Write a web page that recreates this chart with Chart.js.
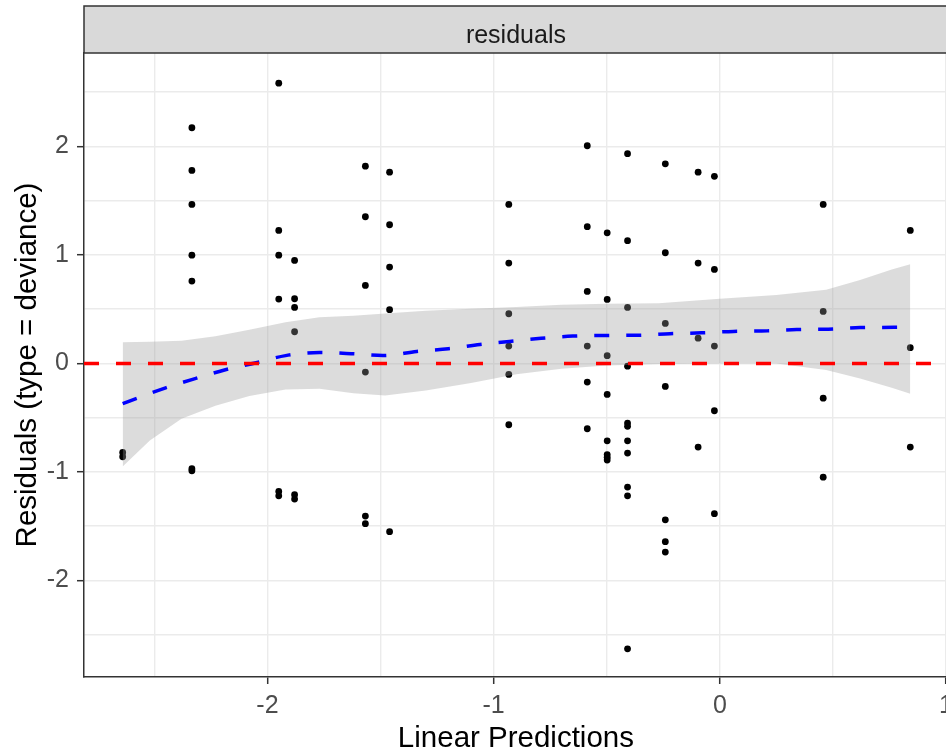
<!DOCTYPE html>
<html>
<head>
<meta charset="utf-8">
<script src="https://cdn.jsdelivr.net/npm/chart.js@4.4.0/dist/chart.umd.min.js"></script>
<style>
  html, body { margin: 0; padding: 0; background: #fff; overflow: hidden; }
  #wrap { width: 946px; height: 753px; overflow: hidden; position: relative; }
  canvas { position: absolute; left: 0; top: 0; }
</style>
</head>
<body>
<div id="wrap"><canvas id="resid" width="960" height="753"></canvas></div>
<script>
// linear predictor values (one per vertical column of points)
const predLevels = [-2.640, -2.334, -1.950, -1.880, -1.567, -1.460, -0.933, -0.586,
                    -0.498, -0.408, -0.241, -0.096, -0.024, 0.457, 0.842];
// deviance residuals for each column
const residuals = [
  [-0.82, -0.86],
  [2.172, 1.779, 1.465, 0.998, 0.759, -0.97, -0.99],
  [2.583, 1.226, 0.998, 0.593, -1.18, -1.22],
  [0.949, 0.596, 0.516, 0.292, -1.21, -1.25],
  [1.818, 1.352, 0.719, -0.080, -1.407, -1.477],
  [1.763, 1.278, 0.888, 0.495, -1.551],
  [1.465, 0.925, 0.458, 0.160, -0.101, -0.565],
  [2.006, 1.260, 0.664, 0.160, -0.172, -0.602],
  [1.204, 0.590, 0.071, -0.286, -0.713, -0.84, -0.865, -0.89],
  [1.933, 1.131, 0.516, -0.025, -0.55, -0.58, -0.713, -0.826, -1.140, -1.220, -2.630],
  [1.840, 1.020, 0.369, -0.212, -1.441, -1.643, -1.739],
  [1.763, 0.925, 0.233, -0.771],
  [1.724, 0.866, 0.160, -0.436, -1.385],
  [1.465, 0.479, -0.320, -1.048],
  [1.226, 0.145, -0.771]
];

// loess smooth
const smoothX = [-2.64, -2.55, -2.45, -2.32, -2.19, -2.05, -1.92, -1.77, -1.63, -1.49, -1.34,
                 -1.20, -1.06, -0.93, -0.79, -0.65, -0.50, -0.36, -0.22, -0.08, 0.06, 0.21,
                 0.34, 0.48, 0.62, 0.77, 0.842];
const smoothY = [-0.37, -0.30, -0.225, -0.14, -0.06, 0.006, 0.072, 0.10, 0.09, 0.073, 0.11,
                 0.136, 0.175, 0.203, 0.232, 0.252, 0.258, 0.26, 0.274, 0.282, 0.295, 0.30,
                 0.313, 0.316, 0.33, 0.333, 0.336];

// confidence band
const bandX  = [-2.64, -2.52, -2.38, -2.23, -2.08, -1.92, -1.77, -1.62, -1.48, -1.30, -1.10,
                -0.90, -0.70, -0.50, -0.27, 0.00, 0.25, 0.47, 0.62, 0.76, 0.842];
const bandHi = [0.196, 0.20, 0.21, 0.25, 0.31, 0.38, 0.425, 0.44, 0.46, 0.485, 0.505,
                0.52, 0.54, 0.55, 0.555, 0.595, 0.63, 0.68, 0.77, 0.865, 0.915];
const bandLo = [-0.95, -0.71, -0.51, -0.39, -0.30, -0.24, -0.233, -0.275, -0.295, -0.25, -0.18,
                -0.10, -0.05, -0.02, -0.005, 0.0, 0.0, -0.06, -0.14, -0.225, -0.28];

const xLimits = [-2.811, 1.008];
const yLimits = [-2.890, 2.861];
const refLine = 0;

const font = '"Liberation Sans", Arial, sans-serif';
Chart.defaults.font.family = font;

const pts = [];
predLevels.forEach((x, i) => residuals[i].forEach(y => pts.push({x: x, y: y})));
const zip = (xs, ys) => xs.map((x, i) => ({x: x, y: ys[i]}));

const isMajor = ctx => ctx.tick && Number.isInteger(ctx.tick.value);

const stripPlugin = {
  id: 'strip',
  afterDraw(chart) {
    const {ctx, chartArea} = chart;
    ctx.save();
    ctx.fillStyle = '#D9D9D9';
    ctx.fillRect(chartArea.left, 6, chart.width, chartArea.top - 6);
    ctx.strokeStyle = '#333333';
    ctx.lineWidth = 1.5;
    ctx.strokeRect(chartArea.left, 6, chart.width, chartArea.top - 6);
    ctx.fillStyle = '#1A1A1A';
    ctx.font = '25px ' + font;
    ctx.textAlign = 'center';
    ctx.textBaseline = 'alphabetic';
    ctx.fillText('residuals', (chartArea.left + chartArea.right) / 2, 42.5);
    ctx.restore();
  }
};

new Chart(document.getElementById('resid'), {
  type: 'scatter',
  data: {
    datasets: [
      {
        data: pts, order: 5,
        backgroundColor: '#000', borderWidth: 0, pointRadius: 3.4
      },
      {
        data: zip(bandX, bandLo), order: 4, showLine: true,
        borderColor: 'rgba(0,0,0,0)', borderWidth: 0, pointRadius: 0, fill: false
      },
      {
        data: zip(bandX, bandHi), order: 3, showLine: true,
        borderColor: 'rgba(0,0,0,0)', borderWidth: 0, pointRadius: 0,
        fill: '-1', backgroundColor: 'rgba(153,153,153,0.34)'
      },
      {
        data: zip(smoothX, smoothY), order: 2, showLine: true,
        borderColor: '#0000FF', borderWidth: 3.5, borderDash: [15, 17],
        pointRadius: 0, cubicInterpolationMode: 'monotone'
      },
      {
        data: [{x: xLimits[0], y: refLine}, {x: xLimits[1], y: refLine}], order: 1, showLine: true,
        borderColor: '#FF0000', borderWidth: 3.5, borderDash: [15, 17], pointRadius: 0
      }
    ]
  },
  options: {
    responsive: false,
    animation: false,
    layout: { padding: { left: 0, top: 53, right: 11, bottom: 0 } },
    plugins: { legend: { display: false }, tooltip: { enabled: false } },
    scales: {
      x: {
        type: 'linear', min: xLimits[0], max: xLimits[1],
        afterFit: s => { s.height = 76; },
        ticks: {
          stepSize: 0.5, includeBounds: false, autoSkip: false, maxRotation: 0,
          padding: 7, color: '#4D4D4D', font: { size: 25 },
          callback: v => Number.isInteger(v) ? String(v) : ''
        },
        grid: {
          color: '#EBEBEB', lineWidth: 1.4, tickLength: 7, tickWidth: 1.5,
          tickColor: c => isMajor(c) ? '#333333' : 'rgba(0,0,0,0)'
        },
        border: { color: '#333333', width: 1.5 },
        title: {
          display: true, text: 'Linear Predictions', color: '#000',
          font: { size: 29.5, lineHeight: 1 }, padding: { top: 0, bottom: -1 }
        }
      },
      y: {
        min: yLimits[0], max: yLimits[1],
        afterFit: s => { s.width = 84; },
        ticks: {
          stepSize: 0.5, includeBounds: false, autoSkip: false,
          padding: 8, color: '#4D4D4D', font: { size: 25 },
          callback: v => Number.isInteger(v) ? String(v) : ''
        },
        grid: {
          color: '#EBEBEB', lineWidth: 1.4, tickLength: 7, tickWidth: 1.5,
          tickColor: c => isMajor(c) ? '#333333' : 'rgba(0,0,0,0)'
        },
        border: { color: '#333333', width: 1.5 },
        title: {
          display: true, text: 'Residuals (type = deviance)', color: '#000',
          font: { size: 29.5, lineHeight: 1 }, padding: { top: 13, bottom: 0 }
        }
      }
    }
  },
  plugins: [stripPlugin]
});
</script>
</body>
</html>
